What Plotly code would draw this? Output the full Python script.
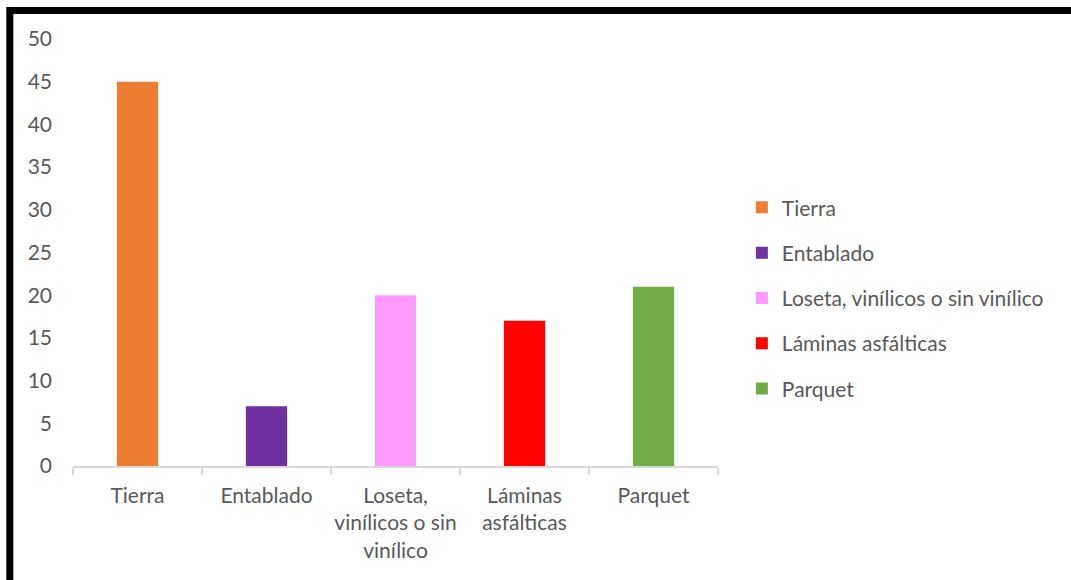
import plotly.graph_objects as go

categories = ["Tierra", "Entablado", "Loseta, vinílicos o sin vinílico", "Láminas asfálticas", "Parquet"]
tick_labels = ["Tierra", "Entablado", "Loseta,<br>vinílicos o sin<br>vinílico", "Láminas<br>asfálticas", "Parquet"]
values = [45, 7, 20, 17, 21]
colors = ["#ED7D31", "#7030A0", "#FF99FF", "#FF0000", "#70AD47"]

FONT = "Lato"
TEXT = "#595959"
SIZE = 21

fig = go.Figure()
for cat, lab, val, col in zip(categories, tick_labels, values, colors):
    fig.add_trace(go.Bar(
        x=[lab], y=[val], name=cat, marker_color=col, marker_line_width=0,
        legendgroup=cat, width=0.32,
    ))

fig.update_layout(
    width=1071, height=580,
    paper_bgcolor="white", plot_bgcolor="white",
    margin=dict(l=73, r=353, t=39, b=114, autoexpand=False),
    barmode="overlay",
    font=dict(family=FONT, size=SIZE, color=TEXT),
    showlegend=True,
    legend=dict(
        x=1.037, y=0.393, xanchor="left", yanchor="middle",
        font=dict(family=FONT, size=SIZE, color=TEXT),
        tracegroupgap=15, itemwidth=30, bgcolor="rgba(0,0,0,0)",
    ),
    xaxis=dict(
        categoryorder="array", categoryarray=tick_labels,
        showline=True, linecolor="#D9D9D9", linewidth=1.5,
        ticks="outside", tickson="boundaries", ticklen=7, tickcolor="#D9D9D9", tickwidth=1.5,
        showgrid=False, zeroline=False, ticklabelstandoff=10, tickangle=0, automargin=False,
        tickfont=dict(family=FONT, size=SIZE, color=TEXT),
    ),
    yaxis=dict(
        range=[0, 50], dtick=5, showline=False, showgrid=False, zeroline=False,
        ticks="", ticklabelstandoff=20, automargin=False,
        tickfont=dict(family=FONT, size=SIZE, color=TEXT),
    ),
    shapes=[dict(
        type="rect", xref="paper", yref="paper",
        x0=-0.098, x1=1.8, y0=-0.5, y1=1.067,
        line=dict(color="black", width=7), fillcolor="rgba(0,0,0,0)", layer="above",
    )],
)

fig.write_html("out.html")
